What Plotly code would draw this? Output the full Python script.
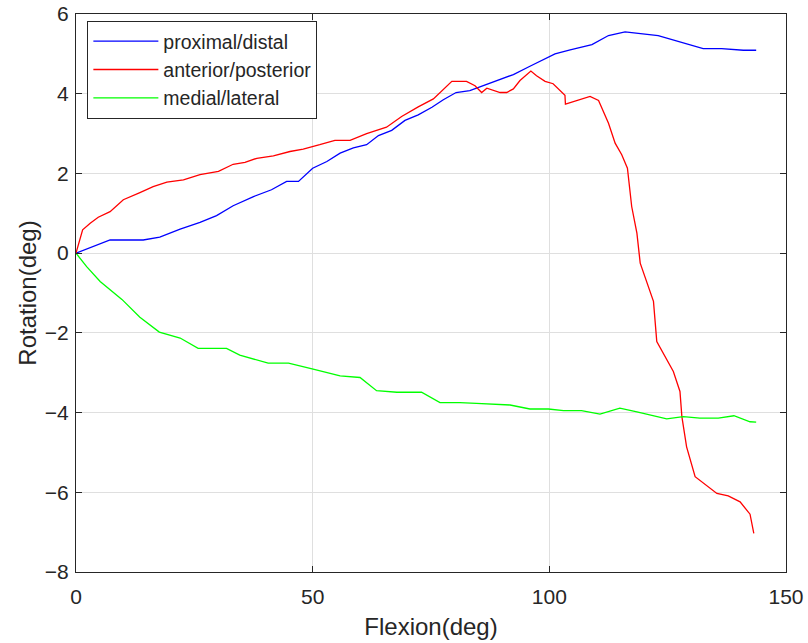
import plotly.graph_objects as go

# proximal/distal
pd_x = [0, 7.2, 14.2, 17.7, 22, 26.2, 29.7, 33.2, 37.5, 41.3, 44.5, 47, 50, 53, 55.8, 58.6, 61.4, 63.9,
        66.7, 69.5, 72.3, 75.2, 77.6, 80.3, 83.2, 86.4, 89.6, 92.4, 95.9, 98, 101.2, 104.4, 109, 112.5,
        116, 123, 127.6, 132.5, 136.4, 141, 143.7]
pd_y = [0, 0.33, 0.33, 0.40, 0.6, 0.77, 0.94, 1.19, 1.42, 1.59, 1.80, 1.80, 2.13, 2.3, 2.51, 2.64, 2.72,
        2.95, 3.08, 3.33, 3.47, 3.66, 3.85, 4.03, 4.08, 4.22, 4.37, 4.48, 4.69, 4.81, 5.0, 5.10, 5.23,
        5.46, 5.55, 5.46, 5.30, 5.13, 5.13, 5.09, 5.09]

# anterior/posterior
ap_x = [0, 1.4, 3.0, 4.7, 7.2, 10, 13.5, 16.3, 19.2, 22.7, 26.2, 30.1, 33.2, 35.7, 38.2, 41.7, 45.2, 48,
        51.5, 54.7, 57.9, 61.4, 65.6, 68.8, 72.3, 75.5, 79.4, 82.5, 84.3, 85.7, 86.8, 89.6, 91, 92.4,
        93.8, 96.1, 97.3, 99.1, 100.8, 103.3, 103.4, 105.8, 108.6, 110.4, 112.5, 113.9, 115.3, 116.5,
        117.4, 118.5, 119.2, 122, 122.7, 126.2, 127.6, 128, 129, 130.8, 135.4, 137.8, 140.3, 142.4, 143.2]
ap_y = [0, 0.585, 0.75, 0.9, 1.04, 1.34, 1.52, 1.67, 1.78, 1.84, 1.97, 2.05, 2.23, 2.28, 2.38, 2.44, 2.55,
        2.61, 2.72, 2.83, 2.83, 3.0, 3.16, 3.43, 3.67, 3.87, 4.31, 4.31, 4.20, 4.03, 4.14, 4.03, 4.03,
        4.12, 4.33, 4.57, 4.45, 4.31, 4.25, 3.96, 3.74, 3.83, 3.93, 3.83, 3.26, 2.76, 2.47, 2.13, 1.17,
        0.5, -0.25, -1.21, -2.22, -2.97, -3.47, -4.1, -4.86, -5.61, -6.03, -6.09, -6.24, -6.55, -7.03]

# medial/lateral
ml_x = [0, 2.25, 5.1, 9.7, 13.5, 17.6, 22, 25.8, 31.8, 34.6, 40.6, 44.9, 50.1, 55.8, 60, 63.5, 67.8, 73,
        76.9, 81.1, 84.6, 87.8, 91.7, 95.9, 99.8, 103, 106.8, 110.7, 114.9, 118.5, 124.8, 128.3, 131.8,
        135.7, 139, 142.4, 143.7]
ml_y = [0, -0.34, -0.71, -1.16, -1.61, -1.98, -2.13, -2.39, -2.39, -2.56, -2.76, -2.76, -2.91, -3.08,
        -3.12, -3.45, -3.49, -3.49, -3.75, -3.75, -3.77, -3.78, -3.81, -3.91, -3.91, -3.95, -3.95, -4.04,
        -3.89, -3.98, -4.16, -4.10, -4.14, -4.14, -4.08, -4.23, -4.24]

x_ticks = [0, 50, 100, 150]
y_ticks = [-8, -6, -4, -2, 0, 2, 4, 6]

FONT = "Liberation Sans, Arial, sans-serif"
TXT = "#262626"

fig = go.Figure()
fig.add_trace(go.Scatter(x=pd_x, y=pd_y, mode="lines", name="proximal/distal",
                         line=dict(color="#0000ff", width=1.3)))
fig.add_trace(go.Scatter(x=ap_x, y=ap_y, mode="lines", name="anterior/posterior",
                         line=dict(color="#ff0000", width=1.3)))
fig.add_trace(go.Scatter(x=ml_x, y=ml_y, mode="lines", name="medial/lateral",
                         line=dict(color="#00ff00", width=1.3)))

axis_common = dict(
    showline=True, linecolor=TXT, linewidth=1.3, mirror="ticks",
    ticks="inside", ticklen=6, tickcolor=TXT, tickwidth=1,
    showgrid=True, gridcolor="#dfdfdf", gridwidth=1, automargin=False,
    zeroline=False, tickfont=dict(family=FONT, size=21, color=TXT),
)

fig.update_layout(
    width=808, height=643,
    margin=dict(l=76, r=22, t=14, b=71),
    paper_bgcolor="white", plot_bgcolor="white",
    font=dict(family=FONT, color=TXT),
    showlegend=True,
    legend=dict(x=0.016, y=0.9875, xanchor="left", yanchor="top",
                bgcolor="white", bordercolor=TXT, borderwidth=1,
                font=dict(family=FONT, size=19.5, color=TXT),
                itemwidth=65, tracegroupgap=0),
    xaxis=dict(range=[0, 150], tickvals=x_ticks, ticklabelstandoff=6,
               title=dict(text="Flexion(deg)", font=dict(family=FONT, size=24, color=TXT), standoff=10),
               **axis_common),
    yaxis=dict(range=[-8, 6], tickvals=y_ticks, ticklabelstandoff=2,
               title=dict(text="Rotation(deg)", font=dict(family=FONT, size=24, color=TXT), standoff=1),
               **axis_common),
)

fig.write_html("out.html")
